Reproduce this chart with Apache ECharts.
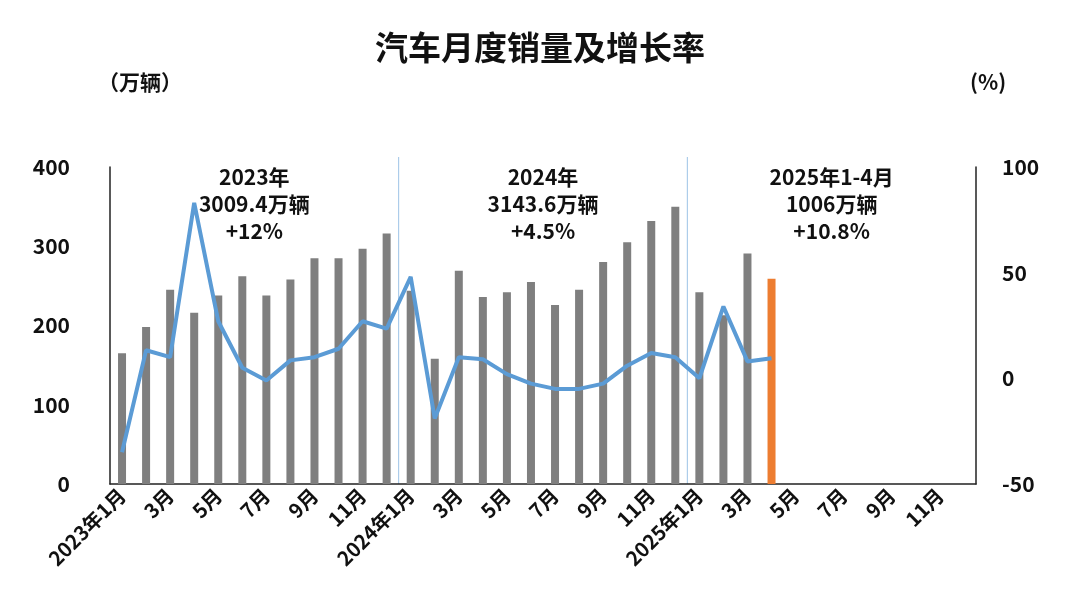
<!DOCTYPE html>
<html><head><meta charset="utf-8">
<script src="https://cdn.jsdelivr.net/npm/echarts@6/dist/echarts.min.js"></script>
<style>html,body{margin:0;background:#fff}#c{width:1080px;height:608px}</style>
</head><body><div id="c"></div>
<script>
// 月份
const months = [];
[2023, 2024, 2025].forEach(y => {
  for (let m = 1; m <= 12; m++) months.push(m === 1 ? y + '年1月' : m + '月');
});
// 销量（万辆）
const sales = [165, 198, 245, 216, 238, 262, 238, 258, 285, 285, 297, 316,
  244, 158, 269, 236, 242, 255, 226, 245, 280, 305, 332, 350,
  242, 213, 291, 259];
// 同比增长率（%）
const growth = [-35, 13.3, 10, 83, 27, 5, -1, 8.5, 10, 14, 27, 23.5,
  48, -19, 10, 9, 2, -2.5, -5, -5, -2.5, 6, 12, 10,
  0, 34, 8, 9.5];
const highlightIndex = 27;

const font = 'Noto Sans CJK SC';
const chart = echarts.init(document.getElementById('c'));
chart.setOption({
  textStyle: { fontFamily: font },
  title: {
    text: '汽车月度销量及增长率', left: 'center', top: 26,
    textStyle: { fontSize: 33, fontWeight: 'bold', color: '#111', fontFamily: font }
  },
  grid: { left: 110, right: 104, top: 167, bottom: 124 },
  xAxis: {
    type: 'category', data: months,
    axisLine: { lineStyle: { color: '#222', width: 1.5 } },
    axisTick: { show: false },
    axisLabel: { interval: 1, rotate: 45, fontSize: 20, fontWeight: 'bold', color: '#111', margin: 8 }
  },
  yAxis: [
    { type: 'value', min: 0, max: 400, interval: 100, splitLine: { show: false },
      axisLine: { show: true, lineStyle: { color: '#222', width: 1.5 } },
      axisLabel: { fontSize: 21, fontWeight: 'bold', color: '#111', margin: 40 } },
    { type: 'value', min: -50, max: 100, interval: 50, splitLine: { show: false },
      axisLine: { show: true, lineStyle: { color: '#222', width: 1.5 } },
      axisLabel: { fontSize: 21, fontWeight: 'bold', color: '#111', margin: 26 } }
  ],
  series: [
    { type: 'bar', barWidth: 8,
      data: sales.map((v, i) => i === highlightIndex
        ? { value: v, itemStyle: { color: '#ed7d31' } } : v),
      itemStyle: { color: '#7f7f7f' } },
    { type: 'line', yAxisIndex: 1, data: growth, symbol: 'none',
      lineStyle: { color: '#5b9bd5', width: 4 } }
  ]
});

// 年份分隔线与注释
const notes = [['2023年', '3009.4万辆', '+12%'], ['2024年', '3143.6万辆', '+4.5%'], ['2025年1-4月', '1006万辆', '+10.8%']];
const yTop = chart.convertToPixel({ yAxisIndex: 0 }, 400);
const yBottom = chart.convertToPixel({ yAxisIndex: 0 }, 0);
const midX = p => (chart.convertToPixel({ xAxisIndex: 0 }, Math.floor(p)) + chart.convertToPixel({ xAxisIndex: 0 }, Math.ceil(p))) / 2;
const extra = [
  { type: 'text', left: 98, top: 72, style: { text: '（万辆）', font: 'bold 21px "Noto Sans CJK SC"', fill: '#111' } },
  { type: 'text', left: 970, top: 72, style: { text: '(%)', font: 'bold 21px "Noto Sans CJK SC"', fill: '#111' } }
];
[11.5, 23.5].forEach(p => {
  const x = midX(p);
  extra.push({ type: 'line', shape: { x1: x, y1: yTop - 10, x2: x, y2: yBottom }, style: { stroke: '#9dc3e6', lineWidth: 1 } });
});
[5.5, 17.5, 29.5].forEach((c, i) => {
  extra.push({ type: 'text', x: midX(c), y: 164, style: { text: notes[i].join('\n'), align: 'center',
    font: 'bold 21px "Noto Sans CJK SC"', lineHeight: 27, fill: '#111' } });
});
chart.setOption({ graphic: extra });
</script></body></html>
